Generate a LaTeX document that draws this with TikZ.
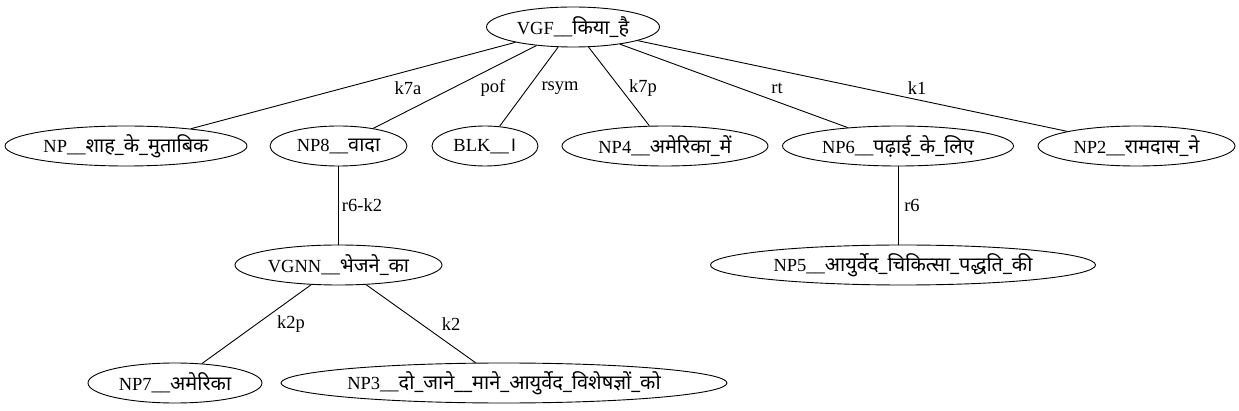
\documentclass[tikz,border=0pt]{standalone}
\usepackage{fontspec}
\setmainfont{Liberation Serif}
\newfontfamily\hifont[Script=Devanagari,Scale=1.08]{Noto Sans}
\newcommand{\hi}[1]{{\hifont #1}}
\usetikzlibrary{positioning, shapes.geometric}

\begin{document}
\begin{tikzpicture}[x=1pt, y=-1pt,
    tok/.style={ellipse, draw=black, line width=0.9pt, inner sep=0pt, minimum height=40pt, font=\fontsize{18.5}{20}\selectfont},
    lbl/.style={inner sep=1pt, font=\fontsize{18.5}{20}\selectfont}]
    \useasboundingbox (0,0) rectangle (1239,411);

    \node[tok, minimum width=173pt] (vgf) at (573,27) {VGF\_\_\hi{किया\_है}};

    \node[tok, minimum width=242pt] (np) at (126,146) {NP\_\_\hi{शाह\_के\_मुताबिक}};
    \node[tok, minimum width=137pt] (np8) at (338.5,146) {NP8\_\_\hi{वादा}};
    \node[tok, minimum width=106pt] (blk) at (485,146) {BLK\_\_\hi{।}};
    \node[tok, minimum width=206pt] (np4) at (665,146) {NP4\_\_\hi{अमेरिका\_में}};
    \node[tok, minimum width=231pt] (np6) at (898,146) {NP6\_\_\hi{पढ़ाई\_के\_लिए}};
    \node[tok, minimum width=197pt] (np2) at (1136.5,146) {NP2\_\_\hi{रामदास\_ने}};

    \node[tok, minimum width=207pt] (vgnn) at (338.5,265) {VGNN\_\_\hi{भेजने\_का}};
    \node[tok, minimum width=385pt] (np5) at (903,265) {NP5\_\_\hi{आयुर्वेद\_चिकित्सा\_पद्धति\_की}};

    \node[tok, minimum width=174pt] (np7) at (175,383) {NP7\_\_\hi{अमेरिका}};
    \node[tok, minimum width=446pt] (np3) at (504,383) {NP3\_\_\hi{दो\_जाने\_\_माने\_आयुर्वेद\_विशेषज्ञों\_को}};

    % edge labels
    \node[lbl] (k7a) at (408,88) {k7a};
    \node[lbl] (pof) at (493,88) {pof};
    \node[lbl] (rsym) at (560,88) {rsym};
    \node[lbl] (k7p) at (643,88) {k7p};
    \node[lbl] (rt) at (777,88) {rt};
    \node[lbl] (k1) at (917,88) {k1};
    \node[lbl] (r6k2) at (362,205) {r6-k2};
    \node[lbl] (r6) at (912,205) {r6};
    \node[lbl] (k2p) at (291,324) {k2p};
    \node[lbl] (k2) at (451,324) {k2};

    \draw[line width=0.9pt] (vgf) -- (np);
    \draw[line width=0.9pt] (vgf) -- (np8);
    \draw[line width=0.9pt] (vgf) -- (blk);
    \draw[line width=0.9pt] (vgf) -- (np4);
    \draw[line width=0.9pt] (vgf) -- (np6);
    \draw[line width=0.9pt] (vgf) -- (np2);

    \draw[line width=0.9pt] (np8) -- (vgnn);
    \draw[line width=0.9pt] (np6) -- (np6 |- np5.north);

    \draw[line width=0.9pt] (vgnn) -- (np7);
    \draw[line width=0.9pt] (vgnn) -- (np3);

\end{tikzpicture}
\end{document}
